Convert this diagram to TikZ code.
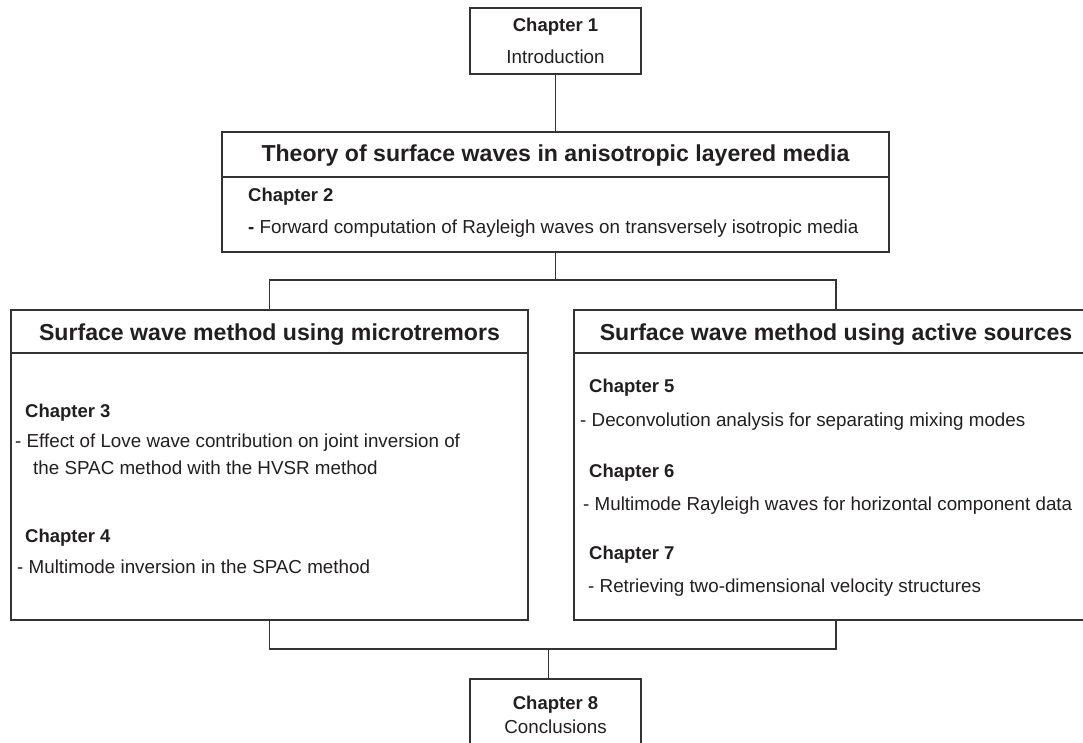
\documentclass[tikz,border=0pt]{standalone}
\usepackage{fontspec}
\setmainfont{Liberation Sans}
\definecolor{linec}{HTML}{333333}
\definecolor{textc}{HTML}{231F20}
\begin{document}
\begin{tikzpicture}[x=1pt,y=-1pt,
  box/.style={draw=linec, line width=1.5pt, rectangle, inner sep=0pt, fill=none},
  conn/.style={draw=linec, line width=1.3pt},
  sepline/.style={draw=linec, line width=1.5pt},
  ttl/.style={inner sep=0pt, text=textc, font=\fontsize{23.1}{27}\selectfont\bfseries, anchor=base},
  chp/.style={inner sep=0pt, text=textc, font=\fontsize{18.5}{22}\selectfont\bfseries},
  txt/.style={inner sep=0pt, text=textc, font=\fontsize{18.8}{22}\selectfont},
]
\useasboundingbox (0,0) rectangle (1083,742);
\fill[white] (0,0) rectangle (1083,742);

% boxes
\node[box, minimum width=171pt, minimum height=66pt] (c1) at (555.5,41) {};
\node[box, minimum width=667pt, minimum height=120pt] (th) at (555.5,192) {};
\node[box, minimum width=517pt, minimum height=310pt] (lb) at (269.5,465) {};
\node[box, minimum width=524pt, minimum height=310pt] (rb) at (836,465) {};
\node[box, minimum width=171pt, minimum height=81pt] (c8) at (555.5,719.5) {};

% header separators
\coordinate (thsep) at (0,177);
\coordinate (bsep) at (0,353);
\draw[sepline] (th.west |- thsep) -- (th.east |- thsep);
\draw[sepline] (lb.west |- bsep) -- (lb.east |- bsep);
\draw[sepline] (rb.west |- bsep) -- (rb.east |- bsep);

% connectors
\coordinate (j1) at (555.5,280);
\coordinate (j2) at (548.5,649);
\draw[conn] (c1.south) -- (th.north);
\draw[conn] (th.south) -- (j1);
\draw[conn] (lb.north) |- (j1) -| (rb.north);
\draw[conn] (lb.south) |- (j2) -| (rb.south);
\draw[conn] (j2) -- (j2 |- c8.north);

% chapter 1
\node[chp, anchor=base] (c1a) at (555.5,31.6) {Chapter 1};
\node[txt, anchor=base] (c1b) at (555.5,63.7) {Introduction};

% theory box
\node[ttl] (tht) at (555.5,161.5) {Theory of surface waves in anisotropic layered media};
\node[chp, anchor=base west] (c2a) at (248,201.7) {Chapter 2};
\node[txt, anchor=base west] (c2b) at (248,233.7) {\textbf{-} Forward computation of Rayleigh waves on transversely isotropic media};

% left box
\node[ttl] (lbt) at (269.5,340) {Surface wave method using microtremors};
\node[chp, anchor=base west] (c3a) at (25,417.7) {Chapter 3};
\node[txt, anchor=base west] (c3b) at (15,447.7) {- Effect of Love wave contribution on joint inversion of};
\node[txt, anchor=base west] (c3c) at (33,474) {the SPAC method with the HVSR method};
\node[chp, anchor=base west] (c4a) at (25,542.7) {Chapter 4};
\node[txt, anchor=base west] (c4b) at (17,573.7) {- Multimode inversion in the SPAC method};

% right box
\node[ttl] (rbt) at (836,340) {Surface wave method using active sources};
\node[chp, anchor=base west] (c5a) at (589,392.7) {Chapter 5};
\node[txt, anchor=base west] (c5b) at (580,426.7) {- Deconvolution analysis for separating mixing modes};
\node[chp, anchor=base west] (c6a) at (589,477.7) {Chapter 6};
\node[txt, anchor=base west] (c6b) at (583,510.7) {- Multimode Rayleigh waves for horizontal component data};
\node[chp, anchor=base west] (c7a) at (589,559) {Chapter 7};
\node[txt, anchor=base west] (c7b) at (588,592) {- Retrieving two-dimensional velocity structures};

% chapter 8
\node[chp, anchor=base] (c8a) at (555.5,709.6) {Chapter 8};
\node[txt, anchor=base] (c8b) at (555.5,733.7) {Conclusions};
\end{tikzpicture}
\end{document}
